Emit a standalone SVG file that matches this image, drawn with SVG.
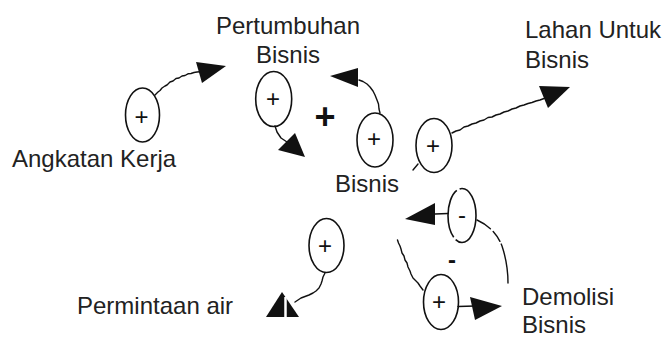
<svg xmlns="http://www.w3.org/2000/svg" width="665" height="337" viewBox="0 0 665 337">
<style>
.lbl{font-family:"Liberation Sans",Arial,sans-serif;font-size:24px;fill:#222}
.sgn{font-family:"Liberation Sans",Arial,sans-serif;font-size:24px;fill:#111;text-anchor:middle}
.big{font-family:"Liberation Sans",Arial,sans-serif;font-weight:bold;fill:#111;text-anchor:middle}
.ell{fill:none;stroke:#111;stroke-width:1.6}
.ln{fill:none;stroke:#111;stroke-width:1.4;stroke-linejoin:round;stroke-linecap:round}
.ah{fill:#111;stroke:none}
</style>
<rect width="665" height="337" fill="#fff"/>
<g id="connectors">
<path class="ln" d="M155,95 L158,92 L160,90.5 L162,88 L165,86 L167,85 L170,82 L173,81 L176,78.5 L179,78 L182,76 L185,75.5 L188,73.8 L191,73.5 L194,72.5 L197,72 L200,71.7"/>
<polygon class="ah" points="196,62 226,66 202,83"/>
<path class="ln" d="M275,126 L276,129 L277,132 L279,135 L281,138 L284,140 L287,142 L290,144"/>
<polygon class="ah" points="278,150 295,133 305,157"/>
<path class="ln" d="M380,113 L379,109 L378.5,104 L377,100 L375,95 L373,91 L370,87 L367,84 L363,81.5 L359,80"/>
<polygon class="ah" points="330,76 358,68 358,87"/>
<path class="ln" d="M452,133 L456,131 L460,130 L464,127 L468,126 L472,124 L476,123 L480,121 L484,120 L488,117.5 L492,117 L496,115 L500,114 L504,112 L508,111 L512,109 L516,108 L520,106 L524,105 L528,103.5 L532,102.5 L536,101 L540,100 L544,98.5 L547,98"/>
<polygon class="ah" points="539,86 570,87 548,108"/>
<path class="ln" d="M413,170 L418,164"/>
<path class="ln" d="M325,273 L323,277 L322,281 L321,284 L319,288 L316,291 L313,293 L309,295 L305,296.5 L301,298 L298,300 L295,302"/>
<polygon class="ah" points="266,317 282,292 299,317"/>
<path d="M285.5,297 L285.5,318" stroke="#fff" stroke-width="2.5" fill="none"/>
<path class="ln" d="M448,213.5 L435,214"/>
<polygon class="ah" points="405,219 435,203 435,225"/>
<path class="ln" stroke-dasharray="16 4 12 3 200" d="M477,220 C488,225 497,233 502,246 C506,258 508,270 508,283"/>
<path class="ln" d="M423,290 L420,286 L418,283 L415,280 L413,278 L411,274 L410,271 L408,267 L407,263 L405,260 L404,256 L402,253 L401,249 L400,246 L398.5,243 L397.5,240"/>
<path class="ln" d="M458,306.5 L475,306"/>
<polygon class="ah" points="470,297 502,306 475,320"/>
</g>
<g id="node-angkatan">
<ellipse class="ell" cx="142.5" cy="115" rx="17" ry="27"/>
<text class="sgn" x="141.5" y="124.5">+</text>
<text class="lbl" x="12" y="167">Angkatan Kerja</text>
</g>
<g id="node-pertumbuhan">
<ellipse class="ell" cx="273.7" cy="99" rx="18" ry="27.5"/>
<text class="sgn" x="273" y="106.5">+</text>
<text class="lbl" x="288" y="34" text-anchor="middle">Pertumbuhan</text>
<text class="lbl" x="288" y="63" text-anchor="middle">Bisnis</text>
</g>
<g id="node-loop-plus">
<text class="big" x="325" y="129" font-size="36">+</text>
</g>
<g id="node-bisnis">
<ellipse class="ell" cx="375" cy="140" rx="18" ry="27"/>
<text class="sgn" x="374" y="147">+</text>
<text class="lbl" x="335" y="192">Bisnis</text>
</g>
<g id="node-lahan">
<ellipse class="ell" cx="434" cy="145.5" rx="18" ry="27"/>
<text class="sgn" x="433" y="153.5">+</text>
<text class="lbl" x="525" y="38">Lahan Untuk</text>
<text class="lbl" x="525" y="68">Bisnis</text>
</g>
<g id="node-permintaan">
<ellipse class="ell" cx="326.5" cy="245.5" rx="17.5" ry="27"/>
<text class="sgn" x="325" y="253.5">+</text>
<text class="lbl" x="77" y="314">Permintaan air</text>
</g>
<g id="node-demolisi-minus">
<ellipse class="ell" cx="462" cy="215.5" rx="14" ry="27" stroke-dasharray="40 3 50 3 200"/>
<text class="sgn" x="462" y="223">-</text>
</g>
<g id="node-loop-minus">
<text class="big" x="452" y="268" font-size="24">-</text>
</g>
<g id="node-demolisi">
<ellipse class="ell" cx="441" cy="302" rx="17.5" ry="27.5"/>
<text class="sgn" x="439" y="310">+</text>
<text class="lbl" x="522" y="305">Demolisi</text>
<text class="lbl" x="522" y="333">Bisnis</text>
</g>
</svg>
